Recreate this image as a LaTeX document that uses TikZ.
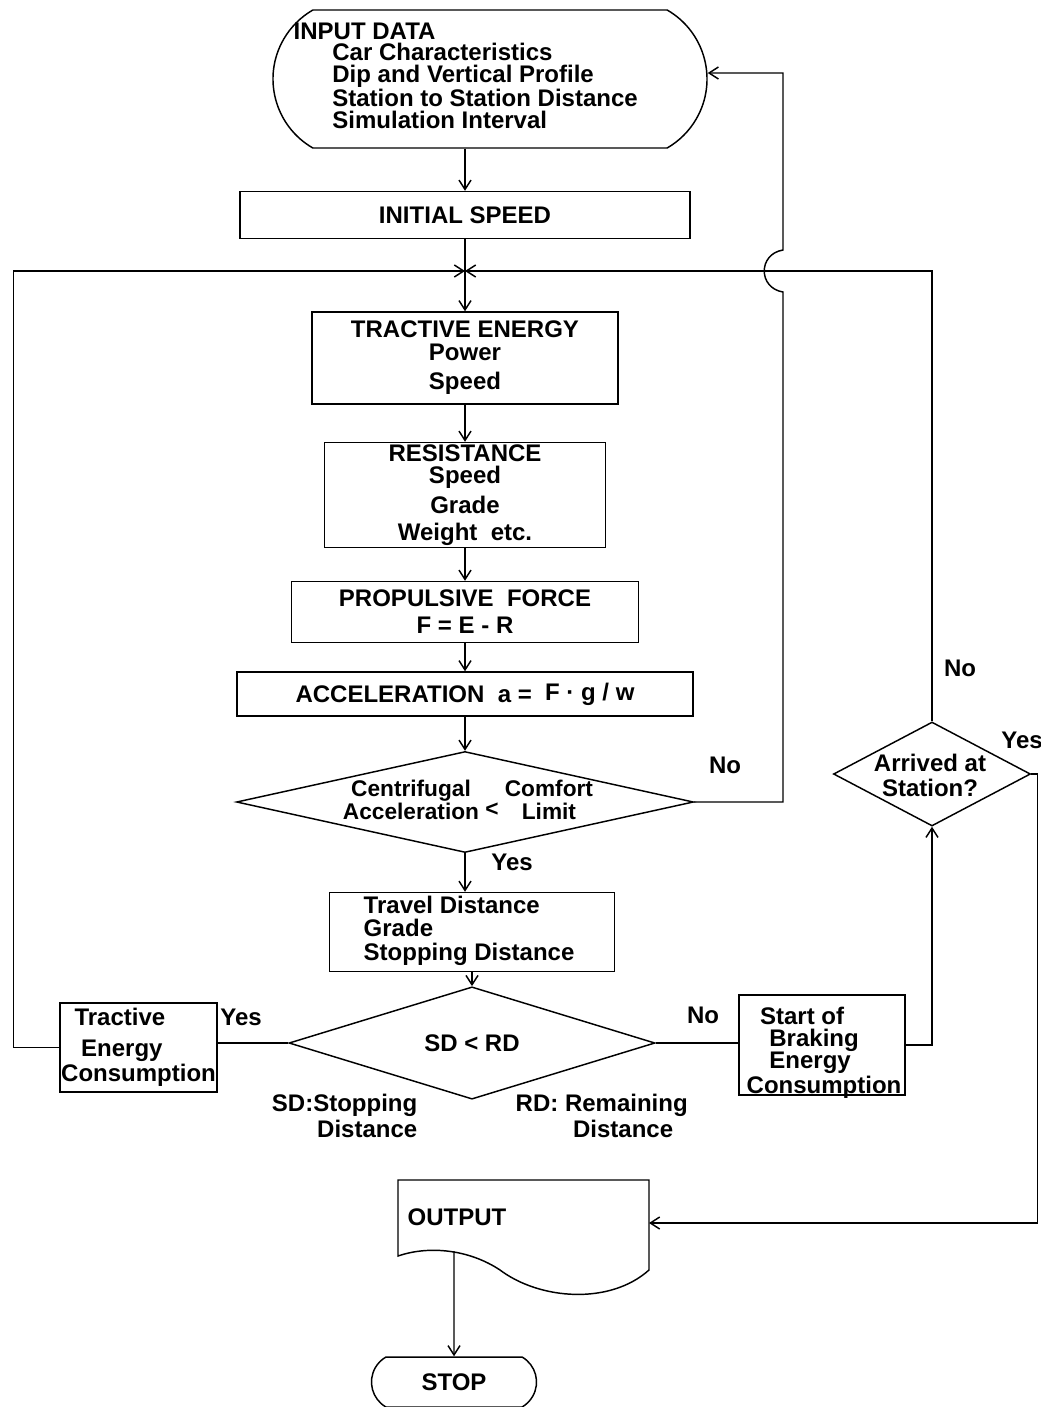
\documentclass[tikz,border=0pt]{standalone}
\usepackage{fontspec}
\setmainfont{Liberation Sans}
\usetikzlibrary{shapes.geometric,shapes.misc,arrows.meta}
\newcommand\chartfont{\bfseries\fontsize{18}{16.3}\selectfont}
\newcommand\smallchartfont{\bfseries\fontsize{17}{17}\selectfont}
\tikzset{every picture/.style={line width=1.1pt}}
\tikzset{
  boxsize/.style 2 args={minimum width=#1*0.75pt, minimum height=#2*0.75pt},
  proc/.style={draw, rectangle, inner sep=0pt, align=center, font=\chartfont},
  term/.style={draw, rounded rectangle, rounded rectangle arc length=120, inner sep=0pt, font=\chartfont},
  test/.style={draw, diamond, inner sep=0pt, font=\chartfont},
  tag/.style={inner sep=0pt, font=\chartfont},
  flow/.style={-{Straight Barb[length=7pt,width=9pt]}}
}

\begin{document}
\begin{tikzpicture}[x=0.75pt,y=0.75pt,yscale=-1,xscale=1]
\useasboundingbox (0,0) rectangle (1040,1407);

% Text Node
\node[term, boxsize={434}{138}] (input) at (490,79) {};
\node[tag, anchor=north west, align=left] (inputtxt) at (293,22) {INPUT DATA\\
\hspace*{29pt}Car Characteristics\\
\hspace*{29pt}Dip and Vertical Profile\\
\hspace*{29pt}Station to Station Distance\\
\hspace*{29pt}Simulation Interval};
% Text Node
\node[proc, boxsize={450}{47}] (speed) at (465,215) {INITIAL SPEED};
\coordinate (merge) at (465,271);
% Text Node
\node[proc, boxsize={306}{92}] (tractive) at (465,358) {TRACTIVE ENERGY\\[0.5pt]Power\\[6pt]Speed};
% Text Node
\node[proc, boxsize={281}{105}] (resist) at (465,495) {RESISTANCE\\[0.5pt]Speed\\[4.7pt]Grade\\[4pt]Weight\ \ etc.};
% Text Node
\node[proc, boxsize={347}{61}] (propulsive) at (465,612) {PROPULSIVE\ \ FORCE\\[4pt]F = E - R};
% Text Node
\node[proc, boxsize={456}{44}] (accel) at (465,694) {ACCELERATION\ \ a = \ \raisebox{2pt}{F · g / w}};
% Decision
\node[test, boxsize={457}{101}] (comfort) at (465,802) {};
\node[tag, font=\smallchartfont] (comforttxt) at (468,803) {\begin{tabular}{@{}c@{\ }c@{\ }c@{}}Centrifugal & & Comfort\\ Acceleration & \raisebox{2pt}{<} & Limit\end{tabular}};
% Text Node
\node[proc, boxsize={285}{79}] (travel) at (472,932) {};
\node[tag, anchor=north west, align=left] (traveltxt) at (363,895) {Travel Distance\\[1.5pt]Grade\\[1.5pt]Stopping Distance};
% Decision
\node[test, boxsize={366}{84}] (sdrd) at (472,1043) {SD < RD};
% Text Node
\node[proc, boxsize={157}{89}, align=left] (tecons) at (138.5,1047.5) {\hspace*{10pt}Tractive\\[7pt]\hspace*{15pt}Energy\\[1pt]Consumption};
% Text Node
\node[proc, boxsize={166}{100}] (brake) at (822,1045) {};
\node[tag, anchor=north west, align=left] (braketxt) at (746,1006) {\hspace*{10pt}Start of\\[0.5pt]\hspace*{17pt}Braking\\[0.5pt]\hspace*{17pt}Energy\\[0.5pt]Consumption};
% Decision
\node[test, boxsize={197}{104}] (arrived) at (932,774) {};
\node[tag, align=center] (arrivedtxt) at (930,775) {Arrived at\\[2.5pt]Station?};
% Document
\draw (398,1256) -- (398,1180) -- (649,1180) -- (649,1270) .. controls (610,1305) and (540,1300) .. (500,1270) .. controls (470,1250) and (430,1245) .. (398,1256) -- cycle;
\node[tag] (output) at (457,1217) {OUTPUT};
\coordinate (outin) at (649,1223);
\coordinate (outbot) at (454,1251);
% Text Node
\node[term, boxsize={165}{50}] (stop) at (454,1382) {STOP};

% Labels
\node[tag] (nocomfort) at (725,765) {No};
\node[tag] (yescomfort) at (512,862) {Yes};
\node[tag] (noarrived) at (960,668) {No};
\node[tag] (yesarrived) at (1022,740) {Yes};
\node[tag] (yessdrd) at (241,1017) {Yes};
\node[tag] (nosdrd) at (703,1015) {No};
\node[tag, anchor=north east, align=right] (sdnote) at (418,1093) {SD:Stopping\\[1.7pt]Distance};
\node[tag, anchor=north west, align=left] (rdnote) at (515,1093) {RD: Remaining\\[1.7pt]\hspace*{43pt}Distance};

% Connection
\coordinate (hump1) at (783,292);
\coordinate (hump2) at (783,250);
\draw[flow] (input.south -| speed.north) -- (speed.north);
\draw (speed.south) -- (merge);
\draw[flow] (tecons.west) -- ++(-46,0) |- (merge);
\draw[flow] (arrived.north) |- (merge);
\draw[flow] (merge) -- (tractive.north);
\draw[flow] (tractive) -- (resist);
\draw[flow] (resist) -- (propulsive);
\draw[flow] (propulsive) -- (accel);
\draw[flow] (accel) -- (comfort);
\draw[flow] (comfort.south) -- (comfort.south |- travel.north);
\draw[flow] (travel) -- (sdrd);
\draw[flow] (comfort.east) -| (hump1) .. controls +(-25,-4) and +(-25,4) .. (hump2) |- ([yshift=-4.5pt]input.east);
\draw (sdrd.west) -- (sdrd.west -| tecons.east);
\draw (sdrd.east) -- (sdrd.east -| brake.west);
\draw[flow] (brake.east) -| (arrived.south);
\draw[flow] (arrived.east) -- ++(6,0) |- (outin);
\draw[flow] (outbot) -- (stop);

\end{tikzpicture}
\end{document}
